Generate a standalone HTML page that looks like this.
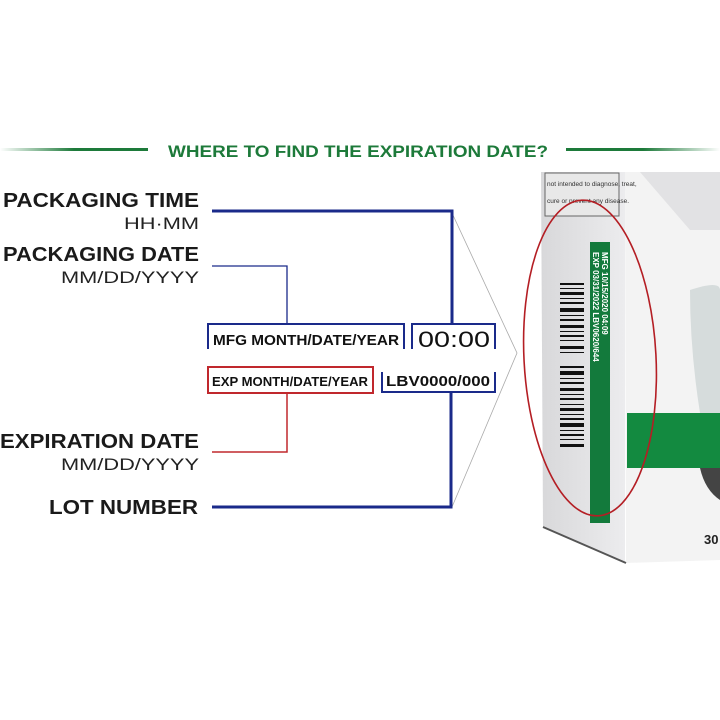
<!DOCTYPE html>
<html><head><meta charset="utf-8"><style>
body{margin:0;width:720px;height:720px;background:#fff;overflow:hidden;position:relative;font-family:"Liberation Sans",sans-serif}
</style></head><body>
<svg width="720" height="720" style="position:absolute;left:0;top:0" font-family="Liberation Sans, sans-serif">
<defs>
<linearGradient id="gl" x1="0" x2="1"><stop offset="0" stop-color="#fff"/><stop offset="0.5" stop-color="#1d7a3a"/></linearGradient>
<linearGradient id="gr" x1="0" x2="1"><stop offset="0.5" stop-color="#1d7a3a"/><stop offset="1" stop-color="#fff"/></linearGradient>
<linearGradient id="side" x1="0" x2="1"><stop offset="0" stop-color="#d8d8da"/><stop offset="1" stop-color="#ececee"/></linearGradient>
</defs>
<rect x="0" y="148" width="148" height="3" fill="url(#gl)"/>
<rect x="566" y="148" width="154" height="3" fill="url(#gr)"/>
<text x="168" y="157" font-size="17" font-weight="bold" fill="#1d7a3a" textLength="380" lengthAdjust="spacingAndGlyphs">WHERE TO FIND THE EXPIRATION DATE?</text>
<!-- labels -->
<g fill="#1a1a1a" text-anchor="end">
<text x="199" y="207" font-size="20" font-weight="bold" textLength="196" lengthAdjust="spacingAndGlyphs">PACKAGING TIME</text>
<text x="199" y="229" font-size="17" fill="#222" textLength="75" lengthAdjust="spacingAndGlyphs">HH·MM</text>
<text x="199" y="261" font-size="20" font-weight="bold" textLength="196" lengthAdjust="spacingAndGlyphs">PACKAGING DATE</text>
<text x="199" y="283" font-size="17" fill="#222" textLength="138" lengthAdjust="spacingAndGlyphs">MM/DD/YYYY</text>
<text x="199" y="448" font-size="20" font-weight="bold" textLength="199" lengthAdjust="spacingAndGlyphs">EXPIRATION DATE</text>
<text x="199" y="470" font-size="17" fill="#222" textLength="138" lengthAdjust="spacingAndGlyphs">MM/DD/YYYY</text>
<text x="198" y="514" font-size="20" font-weight="bold" textLength="149" lengthAdjust="spacingAndGlyphs">LOT NUMBER</text>
</g>
<!-- box -->
<polygon points="541,172 625,172 625,563 543,527" fill="url(#side)"/>
<polygon points="625,172 720,172 720,560 626,563" fill="#f3f3f3"/>
<polygon points="640,172 720,172 720,230 690,230" fill="#e2e2e4"/>
<rect x="545" y="173" width="74" height="43" fill="#e8e8e8" stroke="#666" stroke-width="1"/>
<text x="547" y="186" font-size="6.5" fill="#333">not intended to diagnose, treat,</text>
<text x="547" y="203" font-size="6.5" fill="#333">cure or prevent any disease.</text>
<path d="M543 527 L626 563" stroke="#555" stroke-width="2"/>
<rect x="590" y="242" width="20" height="281" fill="#137a3c"/>
<text transform="translate(602,252) rotate(90)" font-size="8" font-weight="bold" fill="#fff">MFG 10/15/2020 04:09</text>
<text transform="translate(593,252) rotate(90)" font-size="8" font-weight="bold" fill="#fff">EXP 03/31/2022  LBV0620/644</text>
<g fill="#111">
<rect x="560" y="283" width="24" height="2"/><rect x="560" y="288" width="24" height="1"/><rect x="560" y="292" width="24" height="3"/><rect x="560" y="298" width="24" height="1"/><rect x="560" y="302" width="24" height="2"/><rect x="560" y="308" width="24" height="4"/><rect x="560" y="315" width="24" height="1"/><rect x="560" y="319" width="24" height="2"/><rect x="560" y="325" width="24" height="3"/><rect x="560" y="331" width="24" height="1"/><rect x="560" y="335" width="24" height="2"/><rect x="560" y="340" width="24" height="1"/><rect x="560" y="346" width="24" height="3"/><rect x="560" y="352" width="24" height="1"/><rect x="560" y="366" width="24" height="2"/><rect x="560" y="371" width="24" height="4"/><rect x="560" y="378" width="24" height="1"/><rect x="560" y="382" width="24" height="2"/><rect x="560" y="388" width="24" height="3"/><rect x="560" y="394" width="24" height="1"/><rect x="560" y="398" width="24" height="2"/><rect x="560" y="404" width="24" height="1"/><rect x="560" y="408" width="24" height="3"/><rect x="560" y="414" width="24" height="1"/><rect x="560" y="418" width="24" height="2"/><rect x="560" y="423" width="24" height="4"/><rect x="560" y="430" width="24" height="1"/><rect x="560" y="434" width="24" height="2"/><rect x="560" y="439" width="24" height="1"/><rect x="560" y="444" width="24" height="3"/>
</g>
<rect x="627" y="413" width="93" height="55" fill="#138a40"/>
<path d="M690 290 Q720 280 720 290 L720 413 L700 413 Q690 350 690 290Z" fill="#d6dcdc"/>
<path d="M700 468 L720 468 L720 500 Q705 490 700 468Z" fill="#444"/>
<text x="704" y="544" font-size="13" font-weight="bold" fill="#222">30</text>
<ellipse cx="590" cy="358" rx="66" ry="158" fill="none" stroke="#b41e24" stroke-width="1.6" transform="rotate(-3 590 358)"/>
<!-- chevron -->
<polyline points="452,213 517,353 452,507" fill="none" stroke="#aaa" stroke-width="0.8"/>
<!-- connectors -->
<polyline points="212,211 452,211 452,323" fill="none" stroke="#1a2a8a" stroke-width="3"/>
<polyline points="212,266 287,266 287,323" fill="none" stroke="#1a2a8a" stroke-width="1.3"/>
<polyline points="287,393 287,452 212,452" fill="none" stroke="#c0282d" stroke-width="1.5"/>
<polyline points="451,393 451,507 212,507" fill="none" stroke="#1a2a8a" stroke-width="3"/>
<polyline points="208,349 208,324 404,324 404,349" fill="none" stroke="#1a2a8a" stroke-width="2"/>
<polyline points="412,349 412,324 495,324 495,349" fill="none" stroke="#1a2a8a" stroke-width="2"/>
<rect x="208" y="367" width="165" height="26" fill="none" stroke="#c0282d" stroke-width="2"/>
<polyline points="382,372 382,392 495,392 495,372" fill="none" stroke="#1a2a8a" stroke-width="2"/>
<text x="213" y="345" font-size="14.5" fill="#111" font-weight="bold" textLength="186" lengthAdjust="spacingAndGlyphs">MFG MONTH/DATE/YEAR</text>
<text x="418" y="347" font-size="22" fill="#111" textLength="72" lengthAdjust="spacingAndGlyphs">00:00</text>
<text x="212" y="386" font-size="13" fill="#111" font-weight="bold" textLength="156" lengthAdjust="spacingAndGlyphs">EXP MONTH/DATE/YEAR</text>
<text x="386" y="386" font-size="15" fill="#111" font-weight="bold" textLength="104" lengthAdjust="spacingAndGlyphs">LBV0000/000</text>
</svg>
</body></html>
